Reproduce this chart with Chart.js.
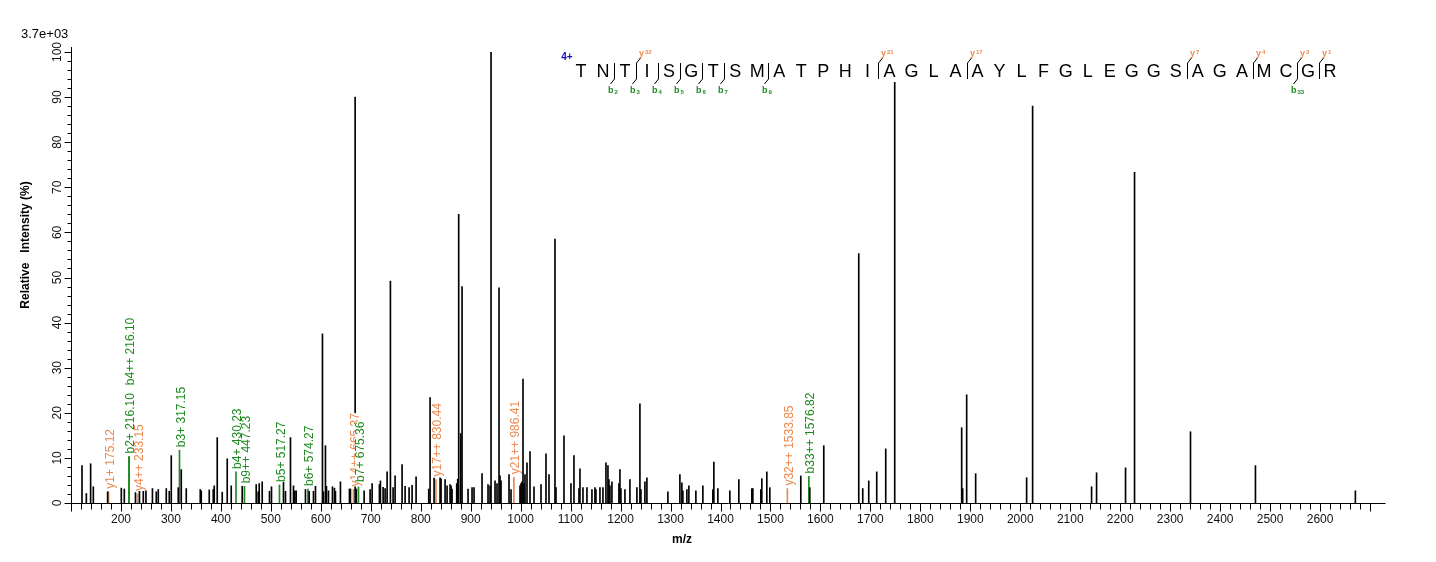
<!DOCTYPE html>
<html>
<head>
<meta charset="utf-8">
<script src="https://cdn.jsdelivr.net/npm/chart.js"></script>
<style>
body{margin:0;background:#fff;}
canvas{display:block;}
</style>
</head>
<body>
<canvas id="chart" width="1436" height="562"></canvas>
<script>
// unannotated peaks (m/z, relative intensity %)
const peakMz=[122,130.7,139.3,144.7,173.3,200.7,206.7,229,237,244.7,250,263,270.7,274.7,290.7,296.7,300.7,314.7,320.7,330.7,
358.7,360.7,376.7,384.7,386.7,392.7,402.7,412.7,420.7,442.7,470.7,474.7,476.7,482.7,497.3,501.3,525.3,529.3,539.3,545.3,
548,550.7,569.3,576.7,585.3,589.3,603.3,605.3,609.3,611.3,615.3,623.3,627.3,629.3,639.3,657.3,659.3,668.7,671,
686.7,698.7,702.7,717.3,719.3,724.7,728.7,732.7,739.3,744.7,748.7,762.7,768.7,776.7,782.7,790.7,816,818.7,826.7,
838.7,840.7,848.7,852.7,858.7,860.7,862.7,872,874,876,880,882.7,894.7,902.7,906.7,922.7,934.7,938.7,940.7,948.7,
952.7,956.7,958.7,960.7,976.7,980.7,998.7,1000.7,1002.7,1004.7,1006.7,1008.7,1012.7,1018.7,1026.7,1040.7,1050.7,1056.7,
1068.7,1070.7,1086.7,1100.7,1106.7,1116.7,1118.7,1124.7,1132.7,1142.7,1148.7,1150.7,1158.7,1164.7,1170.7,1174.7,1176.7,
1178.7,1182.7,1196.7,1198.7,1200.7,1208.7,1218.7,1232.7,1238.7,1240.7,1248.7,1252.7,1294.7,1318.7,1322.7,1324.7,1332.7,
1336.7,1350.7,1364.7,1384.7,1386.7,1394.7,1418.7,1436.7,1462.7,1464.7,1480.7,1482.7,1492.7,1498.7,1560.7,1578.7,1606.7,
1676.7,1684.7,1696.7,1712.7,1730.7,1748.7,1882.7,1884.7,1892.7,1910.7,2012.7,2024.7,2142.7,2152.7,2210.7,2228.7,2340.7,
2470.7,2670.7];
const peakInt=[8.3,2.1,8.7,3.6,2.5,3.3,3.1,2.3,3,3.7,2.7,3.2,2.5,3,3.2,2.6,10.5,3.4,7.4,3.2,
3.0,2.7,2.9,3,3.8,14.5,2.4,9.8,3.8,3.7,4.1,2.5,4.3,4.7,2.6,3.6,4.7,2.6,14.5,3.8,
2.7,2.7,3,2.6,2.6,3.7,37.5,2.5,12.7,3.7,2.7,3.6,3.3,2.6,4.7,3.1,3.1,90,3.1,
2.7,3,4.3,4.1,4.9,3.5,3.2,6.9,49.2,3.4,6,8.5,3.7,3.4,3.9,5.8,3.1,23.4,5.5,
5.6,5.3,5.2,3.8,4.1,3.8,3.1,4.3,5.3,64,15.4,48,3.1,3.4,3.4,6.5,4.1,3.8,100,4.9,
4.3,47.7,6,4.9,6.3,3,3.8,4.3,4.7,27.5,4.3,6.3,8.9,11.4,3.6,4.1,10.9,6.3,
58.5,3.4,14.9,4.3,10.5,3.2,7.6,3.4,3.4,3,3.4,3,3.4,3.4,8.9,8.3,5.2,
3.8,4.7,4.3,7.4,3.2,3,5.2,3.4,22,3,4.7,5.6,2.5,6.3,4.5,2.7,3,
3.8,2.7,3.8,3,9.1,3.2,2.7,5.2,3.2,3.2,3,5.4,6.9,3.4,6,3.4,12.7,
55.3,3.2,4.9,6.9,12,93.3,16.7,3.2,24,6.5,5.6,88,3.6,6.7,7.8,73.3,15.8,
8.3,2.7];

// annotated fragment ions
const ionMz=[175.12,216.10,216.10,233.15,317.15,430.23,447.23,517.27,574.27,665.37,675.36,830.44,986.41,1533.85,1576.82];
const ionInt=[2.5,10.3,10.3,2.0,11.7,6.9,3.7,4.0,3.1,3.0,4.0,5.2,5.7,3.2,5.9];
const ionLabels=['y1+ 175.12','b2+ 216.10','b4++ 216.10','y4++ 233.15','b3+ 317.15','b4+ 430.23','b9++ 447.23',
'b5+ 517.27','b6+ 574.27','y14++ 665.37','b7+ 675.36','y17++ 830.44','y21++ 986.41','y32++ 1533.85','b33++ 1576.82'];

// peptide sequence and matched sites
const peptide="TNTISGTSMATPHIAGLAAYLFGLEGGSAGAMCGR";
const charge="4+";
const bSites=[2,3,4,5,6,7,9,33];
const ySites=[32,21,17,7,4,2,1];

const xTickLabels=[200,300,400,500,600,700,800,900,1000,1100,1200,1300,1400,1500,1600,1700,1800,1900,2000,2100,2200,2300,2400,2500,2600];
const yTickLabels=[0,10,20,30,40,50,60,70,80,90,100];

const GREEN='#1f8a1f', ORANGE='#ec8a50';

var bIons=[], yIons=[];
ionMz.forEach((m,i)=>{
    var p={x:m,y:ionInt[i]};
    if(ionLabels[i][0]=='b') bIons.push(p); else yIons.push(p);
});

var deco={
    id:'deco',
    beforeDraw(c){
        var ctx=c.ctx;
        ctx.save();
        ctx.fillStyle='#fff';
        ctx.fillRect(0,0,c.width,c.height);
        ctx.restore();
    },
    afterDatasetsDraw(c){
        var ctx=c.ctx, xs=c.scales.x, ys=c.scales.y, a=c.chartArea;
        ctx.save();
        ctx.strokeStyle='#000';
        ctx.fillStyle='#111';
        ctx.lineWidth=1;
        var yb=Math.round(ys.getPixelForValue(0))+0.5;
        var xl=Math.round(a.left)+0.5;
        ctx.beginPath();
        ctx.moveTo(xl,yb);ctx.lineTo(Math.round(a.right)+0.5,yb);
        ctx.moveTo(xl,yb);ctx.lineTo(xl,a.top-5);
        // x ticks
        for(var v=100;v<=2700;v+=20){
            var px=Math.round(xs.getPixelForValue(v))+0.5;
            ctx.moveTo(px,yb);ctx.lineTo(px,yb+(v%100==0?8:6));
        }
        // y ticks
        for(var v=0;v<=100;v+=2){
            var py=Math.round(ys.getPixelForValue(v))+0.5;
            ctx.moveTo(xl,py);ctx.lineTo(xl-(v%10==0?7:4),py);
        }
        ctx.stroke();

        ctx.font='12px Arial';
        ctx.textAlign='center';
        ctx.textBaseline='middle';
        xTickLabels.forEach(v=>{
            ctx.fillText(v,xs.getPixelForValue(v),yb+16);
        });
        yTickLabels.forEach(v=>{
            ctx.save();
            ctx.translate(58,ys.getPixelForValue(v));
            ctx.rotate(-Math.PI/2);
            ctx.fillText(v,0,0);
            ctx.restore();
        });

        // titles
        ctx.fillStyle='#000';
        ctx.font='bold 12px Arial';
        ctx.fillText('m/z',682,540);
        ctx.save();
        ctx.translate(26,245);
        ctx.rotate(-Math.PI/2);
        ctx.fillText('Relative   Intensity (%)',0,0);
        ctx.restore();
        ctx.font='13px Arial';
        ctx.textAlign='left';
        ctx.fillText('3.7e+03',21,34);

        // ion labels
        ctx.font='12px Arial';
        var lastMz=null, lastTop=0;
        ionMz.forEach((m,i)=>{
            var px=xs.getPixelForValue(m);
            var base=ys.getPixelForValue(ionInt[i])-3;
            if(m===lastMz) base=lastTop-8;
            var w=ctx.measureText(ionLabels[i]).width;
            ctx.save();
            ctx.translate(px+2,base);
            ctx.rotate(-Math.PI/2);
            ctx.fillStyle='#fff';
            ctx.fillRect(0,-5,w,10);
            ctx.fillStyle=ionLabels[i][0]=='b'?GREEN:ORANGE;
            ctx.textAlign='left';
            ctx.fillText(ionLabels[i],0,0);
            ctx.restore();
            lastMz=m; lastTop=base-w;
        });

        // peptide sequence with fragment markers
        var x0=581, x1=1330, sp=(x1-x0)/(peptide.length-1), yMid=72;
        ctx.fillStyle='#1010c0';
        ctx.font='bold 10px Arial';
        ctx.textAlign='center';
        ctx.fillText(charge,567,57);
        ctx.fillStyle='#000';
        ctx.font='18px Arial';
        for(var i=0;i<peptide.length;i++){
            ctx.fillText(peptide[i],x0+i*sp,yMid);
        }
        ctx.beginPath();
        bSites.forEach(k=>{
            var gx=Math.round(x0+(k-0.5)*sp)+0.5;
            ctx.moveTo(gx,63);ctx.lineTo(gx,79);ctx.lineTo(gx-4,84);
        });
        ySites.forEach(k=>{
            var gx=Math.round(x0+(peptide.length-k-0.5)*sp)+0.5;
            ctx.moveTo(gx,79);ctx.lineTo(gx,63);ctx.lineTo(gx+4,58);
        });
        ctx.stroke();
        ctx.textAlign='left';
        bSites.forEach(k=>{
            var gx=Math.round(x0+(k-0.5)*sp);
            ctx.fillStyle=GREEN;
            ctx.font='bold 9px Arial';
            ctx.fillText('b',gx-6,91);
            var bw=ctx.measureText('b').width;
            ctx.font='bold 6px Arial';
            ctx.fillText(k,gx-6+bw+1,92);
        });
        ySites.forEach(k=>{
            var gx=Math.round(x0+(peptide.length-k-0.5)*sp);
            ctx.fillStyle=ORANGE;
            ctx.font='bold 9px Arial';
            ctx.fillText('y',gx+3,54);
            var yw=ctx.measureText('y').width;
            ctx.font='bold 6px Arial';
            ctx.fillText(k,gx+3+yw+1,52);
        });
        ctx.restore();
    }
};

var ctx=document.getElementById('chart').getContext('2d');
var myChart=new Chart(ctx,{
    type:'bar',
    data:{
        datasets:[{
            data:peakMz.map((m,i)=>({x:m,y:peakInt[i]})),
            backgroundColor:'#000'
        },{
            data:bIons,
            backgroundColor:GREEN
        },{
            data:yIons,
            backgroundColor:ORANGE
        }]
    },
    options:{
        responsive:false,
        animation:false,
        layout:{padding:{left:71,right:51,top:52,bottom:59}},
        datasets:{bar:{barThickness:1,grouped:false,borderWidth:0}},
        plugins:{legend:{display:false},tooltip:{enabled:false}},
        scales:{
            x:{type:'linear',min:100,max:2730,offset:false,display:false},
            y:{min:0,max:100,display:false}
        }
    },
    plugins:[deco]
});
</script>
</body>
</html>
